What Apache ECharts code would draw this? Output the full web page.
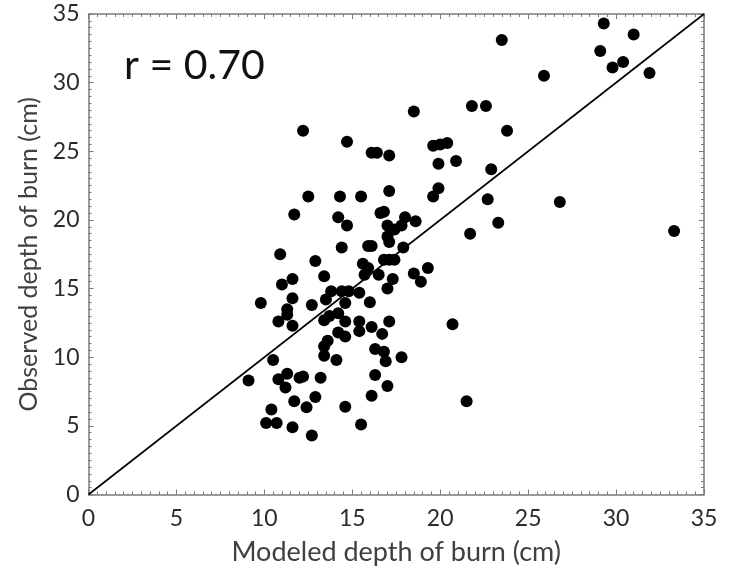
<!DOCTYPE html>
<html>
<head>
<meta charset="utf-8">
<script src="https://cdn.jsdelivr.net/npm/echarts@6/dist/echarts.min.js"></script>
<style>html,body{margin:0;padding:0;background:#fff;}#c{width:741px;height:567px;}</style>
</head>
<body>
<div id="c"></div>
<script>
const modeled = [29.3,31.0,23.5,29.1,30.4,29.8,31.9,25.9,21.8,22.6,18.5,12.2,23.8,14.7,19.6,20.0,20.4,16.1,16.4,17.1,20.9,19.9,22.9,17.1,19.9,19.6,12.5,14.3,15.5,22.7,26.8,11.7,16.6,16.8,14.2,18.0,18.6,14.7,23.3,17.0,17.4,17.8,33.3,21.7,17.0,17.1,15.9,16.1,14.4,17.9,10.9,12.9,16.8,17.1,17.4,15.6,15.9,19.3,18.5,15.7,16.5,13.4,18.9,17.3,11.6,11.0,17.0,13.8,14.4,14.8,15.4,13.5,14.6,16.0,11.6,9.8,12.7,11.3,11.3,10.8,14.2,13.7,13.4,11.6,14.6,15.4,15.4,17.1,20.7,16.1,14.2,14.6,16.7,13.6,13.4,13.4,16.3,16.8,17.8,14.1,10.5,16.9,11.3,9.1,10.8,11.2,12.0,12.2,13.2,16.3,17.0,12.9,16.1,11.7,21.5,12.4,14.6,10.4,10.1,10.7,11.6,15.5,12.7];
const observed = [34.3,33.5,33.1,32.3,31.5,31.1,30.7,30.5,28.3,28.3,27.9,26.5,26.5,25.7,25.4,25.5,25.6,24.9,24.9,24.7,24.3,24.1,23.7,22.1,22.3,21.7,21.7,21.7,21.7,21.5,21.3,20.4,20.5,20.6,20.2,20.2,19.9,19.6,19.8,19.6,19.3,19.6,19.2,19.0,18.8,18.4,18.1,18.1,18.0,18.0,17.5,17.0,17.1,17.1,17.1,16.8,16.5,16.5,16.1,16.0,16.0,15.9,15.5,15.7,15.7,15.3,15.0,14.8,14.8,14.8,14.7,14.2,13.95,14.0,14.3,13.95,13.8,13.5,13.1,12.6,13.2,13.0,12.7,12.3,12.6,12.6,11.9,12.6,12.4,12.2,11.8,11.5,11.7,11.2,10.8,10.1,10.6,10.4,10.0,9.8,9.8,9.7,8.8,8.3,8.4,7.8,8.5,8.6,8.5,8.7,7.9,7.1,7.2,6.8,6.8,6.35,6.4,6.2,5.2,5.2,4.9,5.1,4.3];
const oneToOne = [[0,0],[35,35]];
const axisMin = 0, axisMax = 35, axisStep = 5;
const rLabel = 'r = 0.70';
const xTitle = 'Modeled depth of burn (cm)';
const yTitle = 'Observed depth of burn (cm)';

const points = modeled.map((x,i)=>[x, observed[i]]);
const FONT = 'Lato';
const axisColor = '#7a7a7a';
function mkAxis(pos, showLabel, name, nameGap, nameSize) {
  return {
    type:'value', position:pos, min:axisMin, max:axisMax, interval:axisStep,
    name: name || '', nameLocation:'middle', nameGap: nameGap || 0,
    nameTextStyle:{fontFamily:FONT, fontSize:nameSize || 27, color:'#404040'},
    axisLine:{show:true, onZero:false, lineStyle:{color:axisColor, width:1.5}},
    axisTick:{show:true, inside:true, length:5, lineStyle:{color:axisColor, width:1}},
    minorTick:{show:true, splitNumber:10, length:3, lineStyle:{color:axisColor, width:1}},
    axisLabel:{show:showLabel, fontFamily:FONT, fontSize:23, color:'#2b2b2b', margin: (pos==='bottom'?13:9)},
    splitLine:{show:false}, minorSplitLine:{show:false}
  };
}
const chart = echarts.init(document.getElementById('c'), null, {renderer:'canvas'});
chart.setOption({
  animation:false,
  backgroundColor:'#fff',
  grid:{left:88.5, top:14, right:37, bottom:72.5, containLabel:false, outerBoundsMode:'none'},
  xAxis:[mkAxis('bottom', true, xTitle, 44, 27), mkAxis('top', false)],
  yAxis:[mkAxis('left', true, yTitle, 47, 25), mkAxis('right', false)],
  graphic:[{type:'text', left:124, top:45, style:{text:rLabel, fontFamily:FONT, fontSize:41, fill:'#111'}}],
  series:[
    {type:'line', data:oneToOne, symbol:'none', lineStyle:{color:'#000', width:1.6}, xAxisIndex:0, yAxisIndex:0, z:2},
    {type:'scatter', data:points, symbol:'circle', symbolSize:12, itemStyle:{color:'#000', opacity:1}, xAxisIndex:0, yAxisIndex:0, z:3}
  ]
});
</script>
</body>
</html>
